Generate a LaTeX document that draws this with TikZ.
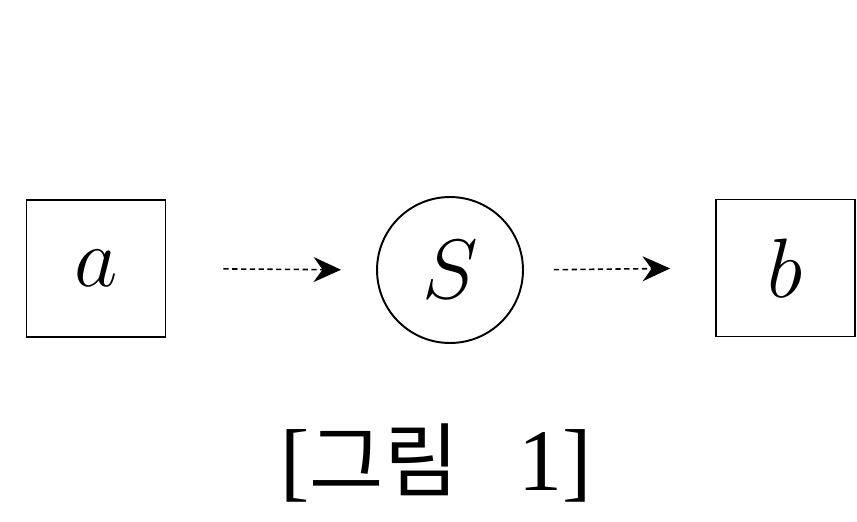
\RequirePackage{fix-cm}
\documentclass[tikz,border=0pt]{standalone}
\usepackage{fontspec}
\usepackage{tikz}
\usetikzlibrary{arrows.meta,positioning}
\newfontfamily\korfont{Noto Sans CJK KR}
\newfontfamily\capfont{Liberation Serif}
\tikzset{
  termbox/.style={
    draw=black,
    line width=1.1pt,
    minimum width=2.78cm,
    minimum height=2.74cm,
    inner sep=0pt,
    font=\fontsize{48}{48}\selectfont
  },
  sumnode/.style={
    circle,
    draw=black,
    line width=1.1pt,
    minimum size=2.92cm,
    inner sep=0pt,
    font=\fontsize{48}{48}\selectfont
  },
  flowedge/.style={
    line width=0.9pt,
    densely dashed,
    -{Stealth[length=5.5mm,width=5mm,inset=1.8mm]}
  },
  figlabel/.style={font=\capfont\fontsize{50}{50}\selectfont, inner sep=0pt}
}

\begin{document}
\begin{tikzpicture}[x=0.02cm,y=-0.02cm]
\path[use as bounding box] (0,0) rectangle (857,521);
\fill[white] (0,0) rectangle (857,521);

\node[termbox] (a) at (96,268.5) {$a$};
\node[sumnode] (S) at (450,270) {$S$};
\node[termbox] (b) at (785.5,268) {$b$};

\draw[flowedge, shorten <=1.14cm, shorten >=0.7cm] (a.east) -- (S.west);
\draw[flowedge, shorten <=0.6cm, shorten >=0.9cm] (S.east) -- (b.west);

\node[figlabel] (cap) at (436,463) {[{\korfont\fontsize{46}{46}\selectfont 그림}\hspace{1.2cm}1]};

\end{tikzpicture}
\end{document}
